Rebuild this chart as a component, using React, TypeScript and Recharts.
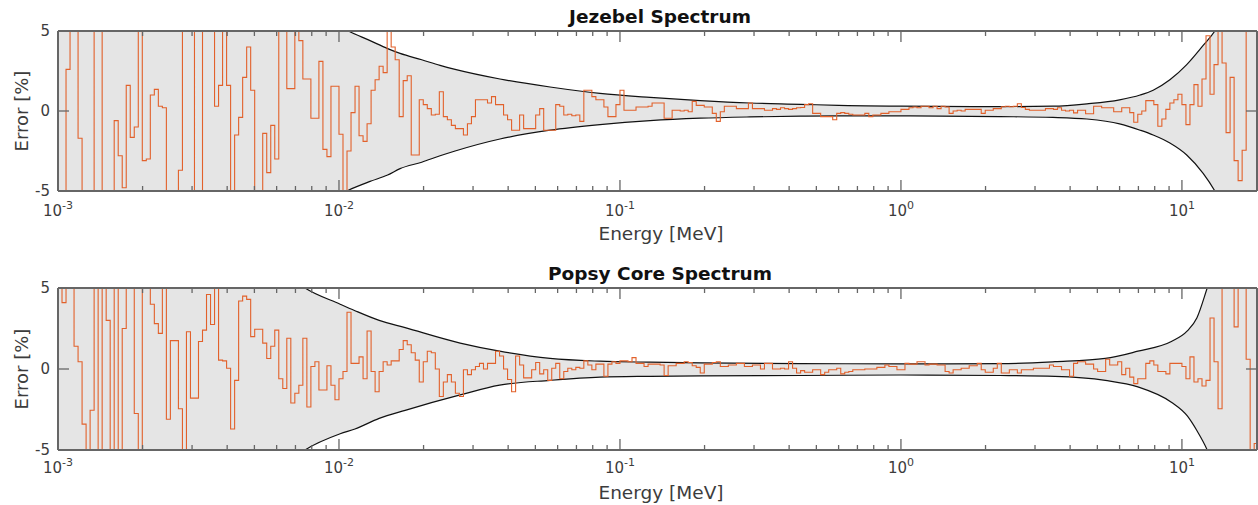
import React from 'react';
import { ComposedChart, Line, Area, XAxis, YAxis } from 'recharts';

// ---------- axes ----------
const X_DOMAIN: [number, number] = [0.001, 18.5];
const Y_DOMAIN: [number, number] = [-5, 5];
const X_TICKS = [
  0.001, 0.002, 0.003, 0.004, 0.005, 0.006, 0.007, 0.008, 0.009,
  0.01, 0.02, 0.03, 0.04, 0.05, 0.06, 0.07, 0.08, 0.09,
  0.1, 0.2, 0.3, 0.4, 0.5, 0.6, 0.7, 0.8, 0.9,
  1, 2, 3, 4, 5, 6, 7, 8, 9, 10,
];
const X_MAJOR_TICKS = [0.001, 0.01, 0.1, 1, 10];
const X_MAJOR_EXPONENTS = ['-3', '-2', '-1', '0', '1'];
const Y_TICKS = [-5, 0, 5];
const Y_TICK_LABELS = ['-5', '0', '5'];

// energy group grid: lower edge of first group, groups per decade
const E_START = 0.001;
const GROUPS_PER_DECADE = 70;

// ---------- Jezebel ----------
const JEZEBEL_ERR = [
  -8, -8, 2.6, 7, 7, -1.7, -8, -8, -8, 7,
  7, -8, -8, -8, -0.6, -2.8, -4.8, 1.6, -1.65, -1.0,
  7, -3.1, -3.0, 1.0, 1.35, 0.3, 0.2, -8, -8, -8,
  -3.7, 7, 7, 7, -8, -8, 7, 7, 7, 0.3,
  1.6, 7, 1.6, -8, -1.5, -0.4, 2.1, 4.0, 1.3, -8,
  -8, -1.4, -3.85, -0.9, -3.0, 7, 7, 1.4, 1.4, 7,
  4.4, 2.0, 2.0, -0.45, -0.45, 3.1, -2.4, -2.85, 1.55, 1.55,
  -1.45, -8, -2.5, -0.1, 1.55, -1.55, -1.9, -0.8, 1.3, 1.95,
  2.8, 2.4, 7, 4.0, 3.2, -0.35, 1.9, 2.2, -2.75, -2.75,
  0.7, 0.4, 0.15, -0.25, -0.2, 1.2, -0.35, -0.55, -0.9, -1.1,
  -1.1, -1.5, -0.8, -0.35, 0.7, 0.7, 0.7, 0.5, 0.9, 0.4,
  0.4, -0.25, -0.55, -1.2, -1.2, -0.25, -1.1, -1.1, -1.1, -0.25,
  0.15, -1.2, -1.2, -1.2, 0.4, 0.3, -0.25, -0.2, -0.3, -0.25,
  -0.65, 1.3, 1.3, 0.9, 0.7, 0.7, 0.25, -0.35, -0.35, 0.4,
  1.3, 0.05, 0.05, 0.05, 0.25, 0.25, 0.25, 0.3, 0.5, 0.5,
  0.5, -0.45, -0.45, 0.05, 0.05, 0.0, 0.05, -0.05, 0.6, 0.35,
  0.35, 0.25, 0.25, -0.15, -0.65, -0.05, 0.3, 0.3, 0.3, 0.15,
  0.15, 0.15, 0.5, 0.15, 0.15, 0.15, 0.05, 0.05, 0.15, 0.1,
  0.2, 0.15, 0.1, 0.15, 0.2, 0.22, 0.4, 0.45, -0.15, -0.15,
  -0.35, -0.35, -0.35, -0.55, -0.15, -0.1, -0.15, -0.2, -0.25, -0.25,
  -0.25, -0.15, -0.35, -0.25, -0.25, -0.15, -0.15, -0.05, -0.05, -0.05,
  0.1, 0.1, 0.2, 0.25, 0.2, 0.3, 0.3, 0.2, 0.3, 0.15,
  0.3, 0.25, -0.15, 0.0, 0.05, 0.0, 0.1, 0.1, 0.1, 0.1,
  -0.15, 0.05, 0.05, 0.15, 0.15, 0.27, 0.3, 0.27, 0.3, 0.45,
  0.22, 0.1, 0.05, 0.05, 0.05, 0.05, 0.15, 0.15, 0.1, 0.2,
  0.05, 0.0, 0.05, -0.12, 0.05, 0.05, -0.17, -0.17, 0.3, 0.3,
  0.2, 0.2, 0.2, -0.05, -0.05, 0.2, 0.2, -0.1, -0.7, -0.2,
  0.0, 0.65, 0.65, 0.4, -0.95, -0.5, 0.1, 0.5, 0.7, 1.05,
  0.4, -0.85, 0.4, 1.65, 0.3, 2.0, 4.7, 1.05, 2.9, 7,
  3.0, -1.35, 2.1, -3.1, -4.35, -2.45, 7, 7, 7,
];
const JEZEBEL_ENV_E = [
  0.001, 0.003, 0.006, 0.0108, 0.0129, 0.0149, 0.0165, 0.0197, 0.0229, 0.0259,
  0.0374, 0.0564, 0.0849, 0.128, 0.193, 0.29, 0.44, 0.6, 1.0, 2.25,
  3.47, 4.59, 6.0, 7.1, 7.9, 9.06, 10.4, 11.9, 13.1, 15, 19,
];
const JEZEBEL_ENV_HI = [
  30, 14, 8, 5.0, 4.4, 3.9, 3.6, 3.2, 2.85, 2.6,
  2.0, 1.5, 1.1, 0.85, 0.65, 0.5, 0.42, 0.35, 0.3, 0.27,
  0.3, 0.45, 0.7, 1.0, 1.3, 1.95, 2.9, 4.1, 5.0, 7, 12,
];
const JEZEBEL_ENV_LO = [
  -30, -14, -8, -4.95, -4.4, -4.0, -3.6, -3.2, -2.8, -2.5,
  -1.75, -1.2, -0.85, -0.6, -0.45, -0.37, -0.32, -0.3, -0.3, -0.35,
  -0.4, -0.5, -0.8, -1.2, -1.5, -2.0, -2.75, -3.9, -5.0, -7, -12,
];

// ---------- Popsy ----------
const POPSY_ERR = [
  7, 4.1, 7, 7, 1.4, 0.45, -3.4, -8, -2.55, 7,
  -8, 7, 3.0, -8, 7, -8, 2.5, 7, 7, -2.75,
  -8, 7, 7, 4.0, 2.8, 2.2, 7, -3.1, 1.75, 1.75,
  -2.45, -8, 2.3, -1.8, -1.8, 1.7, 2.4, 4.6, 2.75, 7,
  0.55, 0.5, 0.05, -3.7, -0.7, 4.2, 4.5, 4.3, 2.0, 2.45,
  2.45, 1.6, 0.65, 1.4, 2.4, -0.6, -1.2, 1.9, -2.1, -1.5,
  -1.0, 1.9, -2.35, 0.15, 0.45, -1.3, -1.3, 0.2, -1.0, -1.9,
  -0.6, -0.15, 3.5, 0.35, 0.35, 0.75, -0.6, 2.35, -0.15, -1.4,
  -0.15, 0.45, 0.25, 0.5, 0.5, 1.2, 1.75, 1.5, 1.0, 0.55,
  -0.8, 0.45, 1.1, 1.0, 0.0, -1.7, -0.8, -0.35, -0.8, -1.5,
  -1.7, -0.05, -0.35, -0.05, 0.15, 0.35, 0.0, 0.35, 0.35, 1.1,
  0.8, 0.0, -0.65, -1.4, 0.8, 0.25, -0.55, -0.55, -0.05, 0.4,
  -0.3, -0.05, -0.7, 0.05, 0.35, -0.6, -0.15, 0.05, -0.05, 0.1,
  0.05, 0.5, 0.25, -0.05, 0.3, 0.3, -0.45, 0.3, 0.45, 0.35,
  0.5, 0.5, 0.45, 0.7, 0.35, 0.35, 0.15, 0.3, 0.3, 0.3,
  0.25, -0.4, 0.2, 0.2, 0.35, 0.35, 0.45, 0.4, 0.2, 0.1,
  -0.25, 0.3, 0.3, 0.4, 0.45, 0.15, 0.15, 0.25, 0.25, 0.35,
  0.35, 0.15, 0.15, 0.25, 0.25, 0.0, 0.35, 0.35, 0.0, 0.0,
  0.05, 0.0, 0.45, 0.05, -0.25, -0.1, -0.2, -0.2, -0.05, -0.05,
  -0.35, -0.2, -0.05, -0.05, 0.05, -0.3, -0.2, -0.15, -0.05, -0.05,
  -0.05, 0.0, 0.0, 0.0, 0.1, 0.1, 0.25, 0.15, 0.15, -0.05,
  -0.05, 0.35, 0.3, 0.3, 0.45, 0.45, 0.25, 0.3, 0.3, 0.25,
  0.25, -0.15, -0.25, -0.05, -0.05, 0.05, 0.05, 0.2, 0.2, 0.35,
  -0.05, -0.2, -0.2, 0.05, 0.35, -0.25, -0.25, -0.05, -0.05, -0.25,
  -0.05, -0.05, -0.05, 0.05, 0.05, 0.05, 0.05, 0.25, 0.15, 0.15,
  -0.05, -0.05, -0.45, 0.35, 0.45, 0.45, 0.3, 0.3, 0.0, -0.15,
  -0.15, 0.6, 0.25, 0.25, 0.45, -0.35, 0.05, -0.5, -0.9, -0.6,
  -0.6, 0.35, 0.5, 0.25, -0.15, -0.15, -0.3, 0.35, 0.35, 0.35,
  0.15, -0.6, 0.75, -0.8, -0.6, -1.05, -0.7, 3.15, 0.45, -2.45,
  7, 7, 7, 2.6, 7, 7, 0.6, -8, -4.6,
];
const POPSY_ENV_E = [
  0.001, 0.004, 0.00757, 0.0101, 0.0114, 0.0139, 0.0172, 0.027, 0.0373, 0.0564,
  0.0849, 0.128, 0.193, 0.44, 1.0, 2.25, 3.53, 5.34, 6.97, 9.17,
  10.45, 11.3, 12.3, 15, 19,
];
const POPSY_ENV_HI = [
  30, 10, 5.0, 4.0, 3.6, 3.0, 2.55, 1.6, 1.1, 0.65,
  0.48, 0.42, 0.38, 0.33, 0.32, 0.33, 0.45, 0.65, 1.1, 1.7,
  2.35, 3.15, 5.0, 10, 18,
];
const POPSY_ENV_LO = [
  -30, -10, -5.0, -4.0, -3.7, -3.05, -2.55, -1.6, -1.0, -0.7,
  -0.5, -0.45, -0.42, -0.4, -0.37, -0.4, -0.45, -0.7, -1.1, -2.05,
  -2.9, -3.8, -5.0, -10, -18,
];

// ---------- styling ----------
const FRAME = '#666666';
const TEXT = '#3c3c3c';
const FONT = '"DejaVu Sans", sans-serif';
const ORANGE = '#e2612b';
const BAND = '#e5e5e5';
const CHART_W = 1258;
const CHART_H = 250;

function groupEdge(i: number) {
  return E_START * Math.pow(10, i / GROUPS_PER_DECADE);
}
function stepRows(vals: number[]) {
  const rows = vals.map((v, i) => ({ e: groupEdge(i), v }));
  rows.push({ e: groupEdge(vals.length), v: vals[vals.length - 1] });
  return rows;
}
function bandRows(es: number[], lo: number[], hi: number[]) {
  return es.map((e, i) => ({ e, band: [lo[i], hi[i]] }));
}

const makeXTick = (side: 'bottom' | 'top', labelDy: number) => (props: any) => {
  const { x, y, payload } = props;
  const v = Number(payload.value);
  const idx = X_MAJOR_TICKS.findIndex((m) => Math.abs(v / m - 1) < 1e-6);
  const len = idx >= 0 ? 11 : 5;
  const dir = side === 'bottom' ? -1 : 1;
  return (
    <g>
      <line x1={x} x2={x} y1={y} y2={y + dir * len} stroke={FRAME} strokeWidth={1.3} />
      {side === 'bottom' && idx >= 0 && (
        <text x={x} y={y + labelDy} textAnchor="middle" fontSize={15} fill={TEXT} fontFamily={FONT}>
          10<tspan dy={-7} fontSize={11}>{X_MAJOR_EXPONENTS[idx]}</tspan>
        </text>
      )}
    </g>
  );
};

const makeYTick = (side: 'left' | 'right') => (props: any) => {
  const { x, y, payload } = props;
  const idx = Y_TICKS.indexOf(Number(payload.value));
  const dir = side === 'left' ? 1 : -1;
  return (
    <g>
      <line x1={x} x2={x + dir * 11} y1={y} y2={y} stroke={FRAME} strokeWidth={1.3} />
      {side === 'left' && (
        <text x={x - 8} y={y} dy="0.36em" textAnchor="end" fontSize={15} fill={TEXT} fontFamily={FONT}>
          {Y_TICK_LABELS[idx]}
        </text>
      )}
    </g>
  );
};

type AxesProps = { bottomAxisH: number; labelDy: number; visible: boolean };

function axes({ bottomAxisH, labelDy, visible }: AxesProps) {
  const line = visible ? { stroke: FRAME, strokeWidth: 2 } : false;
  return [
    <XAxis
      key="xb"
      xAxisId={0}
      dataKey="e"
      type="number"
      scale="log"
      domain={X_DOMAIN}
      allowDataOverflow
      ticks={X_TICKS}
      interval={0}
      tickLine={false}
      tickSize={0}
      tickMargin={0}
      height={bottomAxisH}
      axisLine={line}
      tick={visible ? makeXTick('bottom', labelDy) : false}
    />,
    <XAxis
      key="xt"
      xAxisId="top"
      orientation="top"
      dataKey="e"
      type="number"
      scale="log"
      domain={X_DOMAIN}
      allowDataOverflow
      ticks={X_TICKS}
      interval={0}
      tickLine={false}
      tickSize={0}
      tickMargin={0}
      height={1}
      axisLine={line}
      tick={visible ? makeXTick('top', 0) : false}
    />,
    <YAxis
      key="yl"
      yAxisId={0}
      type="number"
      domain={Y_DOMAIN}
      allowDataOverflow
      ticks={Y_TICKS}
      interval={0}
      tickLine={false}
      tickSize={0}
      tickMargin={0}
      width={50}
      axisLine={line}
      tick={visible ? makeYTick('left') : false}
    />,
    <YAxis
      key="yr"
      yAxisId="right"
      orientation="right"
      type="number"
      domain={Y_DOMAIN}
      allowDataOverflow
      ticks={Y_TICKS}
      interval={0}
      tickLine={false}
      tickSize={0}
      tickMargin={0}
      width={1}
      axisLine={line}
      tick={visible ? makeYTick('right') : false}
    />,
  ];
}

type PanelProps = {
  err: number[];
  envE: number[];
  envLo: number[];
  envHi: number[];
  marginTop: number;
  bottomAxisH: number;
  labelDy: number;
};

function Panel({ err, envE, envLo, envHi, marginTop, bottomAxisH, labelDy }: PanelProps) {
  const steps = stepRows(err);
  const band = bandRows(envE, envLo, envHi);
  const margin = { top: marginTop, right: 0, bottom: 19, left: 8 };
  return (
    <div style={{ position: 'relative', width: CHART_W, height: CHART_H }}>
      <div style={{ position: 'absolute', left: 0, top: 0 }}>
        <ComposedChart width={CHART_W} height={CHART_H} margin={margin}>
          <Area
            data={band}
            dataKey="band"
            type="monotone"
            stroke="#111"
            strokeWidth={1.2}
            fill={BAND}
            fillOpacity={1}
            dot={false}
            activeDot={false}
            isAnimationActive={false}
          />
          <Line
            data={steps}
            dataKey="v"
            type="stepAfter"
            stroke={ORANGE}
            strokeWidth={1.1}
            dot={false}
            activeDot={false}
            isAnimationActive={false}
          />
          {axes({ bottomAxisH, labelDy, visible: false })}
        </ComposedChart>
      </div>
      <div style={{ position: 'absolute', left: 0, top: 0 }}>
        <ComposedChart width={CHART_W} height={CHART_H} margin={margin}>
          <Line
            data={steps}
            dataKey="v"
            type="stepAfter"
            stroke="none"
            dot={false}
            activeDot={false}
            isAnimationActive={false}
          />
          {axes({ bottomAxisH, labelDy, visible: true })}
        </ComposedChart>
      </div>
    </div>
  );
}

const Label = ({ x, y, children, style }: any) => (
  <div
    style={{
      position: 'absolute',
      left: x,
      top: y,
      transform: 'translate(-50%, -50%)',
      whiteSpace: 'nowrap',
      fontFamily: FONT,
      lineHeight: 1,
      ...style,
    }}
  >
    {children}
  </div>
);

export default function App() {
  return (
    <div style={{ position: 'absolute', left: 0, top: 0, width: 1258, height: 505, background: '#fff', overflow: 'hidden' }}>
      <div style={{ position: 'absolute', left: 0, top: 0 }}>
        <Panel err={JEZEBEL_ERR} envE={JEZEBEL_ENV_E} envLo={JEZEBEL_ENV_LO} envHi={JEZEBEL_ENV_HI} marginTop={30} bottomAxisH={40} labelDy={25} />
      </div>
      <div style={{ position: 'absolute', left: 0, top: 255 }}>
        <Panel err={POPSY_ERR} envE={POPSY_ENV_E} envLo={POPSY_ENV_LO} envHi={POPSY_ENV_HI} marginTop={32} bottomAxisH={36} labelDy={23} />
      </div>
      <Label x={660} y={17} style={{ fontSize: 18.5, fontWeight: 'bold', color: '#111' }}>Jezebel Spectrum</Label>
      <Label x={660} y={274} style={{ fontSize: 18.5, fontWeight: 'bold', color: '#111' }}>Popsy Core Spectrum</Label>
      <Label x={661} y={234} style={{ fontSize: 18.5, color: TEXT }}>Energy [MeV]</Label>
      <Label x={661} y={493} style={{ fontSize: 18.5, color: TEXT }}>Energy [MeV]</Label>
      <Label x={22} y={111} style={{ fontSize: 18, color: TEXT, transform: 'translate(-50%, -50%) rotate(-90deg)' }}>Error [%]</Label>
      <Label x={22} y={369} style={{ fontSize: 18, color: TEXT, transform: 'translate(-50%, -50%) rotate(-90deg)' }}>Error [%]</Label>
    </div>
  );
}
